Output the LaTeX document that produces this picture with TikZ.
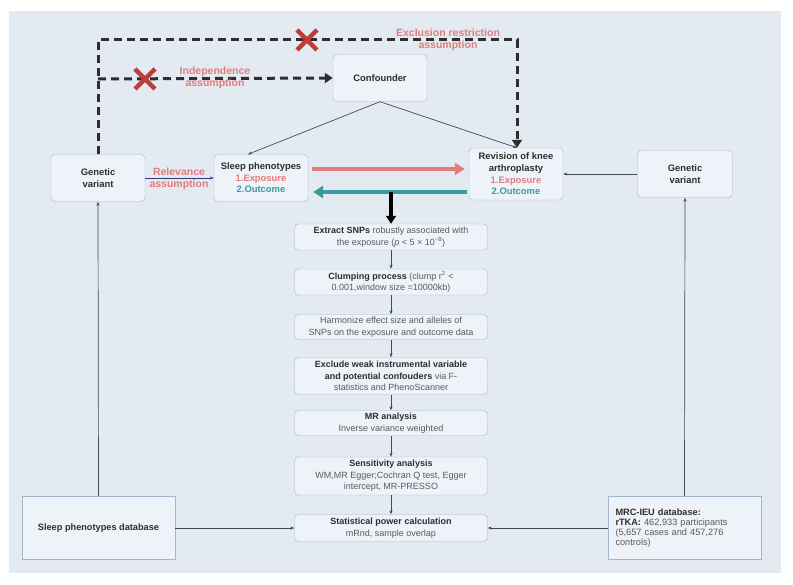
\documentclass[tikz,border=0pt]{standalone}
\usepackage{fontspec}
\setmainfont{Liberation Sans}
\usetikzlibrary{arrows.meta,calc}
\definecolor{panel}{HTML}{E3EAF2}
\definecolor{boxfill}{HTML}{EEF3FA}
\definecolor{boxline}{HTML}{A4B6CE}
\definecolor{salmon}{HTML}{E47C7C}
\definecolor{tealc}{HTML}{3C9A9C}
\definecolor{crossred}{HTML}{C23B3B}
\definecolor{inkc}{HTML}{2E2E2E}
\definecolor{greytext}{HTML}{5A5A5A}
\definecolor{linkc}{HTML}{3E4A58}
\begin{document}
\begin{tikzpicture}[x=1pt,y=-1pt,
  box/.style={draw=boxline,fill=boxfill,rounded corners=4pt,align=center,text=inkc,
    font=\fontsize{9.4}{11.6}\selectfont\bfseries,inner sep=1pt},
  flow/.style={draw=boxline,fill=boxfill,rounded corners=4pt,align=center,text=greytext,
    minimum width=193pt,inner sep=1pt,font=\fontsize{9}{11.4}\selectfont},
  dbbox/.style={draw=boxline,fill=boxfill,minimum width=153pt,minimum height=63pt,
    inner sep=1pt,font=\fontsize{9.2}{9.8}\selectfont},
  link/.style={draw=linkc,line width=0.7pt,-{Stealth[length=4pt,width=3pt]}},
  dashlink/.style={draw=inkc,line width=3pt,dash pattern=on 8pt off 5pt,
    -{Triangle[length=8pt,width=10pt]}},
  note/.style={text=salmon,font=\fontsize{10.5}{12.5}\selectfont\bfseries,align=center},
  cross/.style={draw=crossred,line width=4.5pt}]
\useasboundingbox[fill=white] (0,0) rectangle (793,585);
\fill[panel] (9,11) rectangle (781,573);
% upper part
\node[box,minimum width=94pt,minimum height=47pt] (conf) at (380,78) {Confounder};
\node[box,minimum width=94pt,minimum height=47pt] (gvl) at (98,178) {Genetic\\variant};
\node[box,minimum width=94pt,minimum height=47pt] (sleep) at (261,178)
  {Sleep phenotypes\\\textcolor{salmon}{1.Exposure}\\\textcolor{tealc}{2.Outcome}};
\node[box,minimum width=94pt,minimum height=52pt] (rev) at (516,174)
  {Revision of knee\\arthroplasty\\\textcolor{salmon}{1.Exposure}\\\textcolor{tealc}{2.Outcome}};
\node[box,minimum width=95pt,minimum height=47pt] (gvr) at (685,174) {Genetic\\variant};
% flow
\node[flow,minimum height=26pt] (snp) at (391,237)
  {\textbf{\color{inkc}Extract SNPs} robustly associated with\\the exposure (\textit{p} < 5 × 10\textsuperscript{−8})};
\node[flow,minimum height=26pt] (clump) at (391,282)
  {\textbf{\color{inkc}Clumping process} (clump r\textsuperscript{2} <\\0.001,window size =10000kb)};
\node[flow,minimum height=25pt] (harm) at (391,327)
  {Harmonize effect size and alleles of\\SNPs on the exposure and outcome data};
\node[flow,minimum height=37pt] (weak) at (391,376)
  {\textbf{\color{inkc}Exclude weak  instrumental variable}\\\textbf{\color{inkc}and potential confouders} via F-\\statistics and PhenoScanner};
\node[flow,minimum height=25pt] (mr) at (391,423)
  {\textbf{\color{inkc}MR  analysis}\\Inverse variance weighted};
\node[flow,minimum height=38pt] (sens) at (391,476)
  {\textbf{\color{inkc}Sensitivity analysis}\\WM,MR Egger;Cochran Q test, Egger\\intercept, MR-PRESSO};
\node[flow,minimum height=27pt] (power) at (391,528)
  {\textbf{\color{inkc}Statistical power calculation}\\mRnd, sample overlap};
% databases
\node[dbbox,text=inkc,font=\fontsize{9.2}{11}\selectfont\bfseries] (sdb) at (98.5,528) {Sleep phenotypes database};
\node[dbbox,align=left,text=greytext,text width=138pt] (mrc) at (684.5,528)
  {\textbf{\color{inkc}MRC-IEU database:}\\\textbf{\color{inkc}rTKA:} 462,933 participants\\(5,657 cases and 457,276\\controls)};
% dashed assumption lines
\coordinate (topl) at (98,40);
\coordinate (topr) at (517,40);
\coordinate (midl) at (98,79);
\draw[dashlink] (gvl.north) -- (topl) -- (topr) -- (rev.north -| topr);
\draw[dashlink] (midl) -- (conf.west);
\foreach \cx/\cy in {307/40,145/79}
  \draw[cross] (\cx-10,\cy-10) -- (\cx+10,\cy+10) (\cx-10,\cy+10) -- (\cx+10,\cy-10);
\node[note] (excl) at (448,40) {Exclusion restriction\\assumption};
\node[note] (indep) at (215,78) {Independence\\assumption};
% confounder links
\draw[link] (conf.south) -- ($(sleep.north)+(-13,0)$);
\draw[link] (conf.south) -- (rev.north -| topr);
% relevance
\draw[link,draw=linkc!80!blue] (gvl.east) -- (sleep.west);
\node[note] (relev) at (179,179) {Relevance\\assumption};
\draw[link] (gvr.west) -- (rev.east);
% exposure / outcome arrows
\draw[draw=salmon,line width=4pt,-{Triangle[length=10pt,width=12pt]}]
  ($(sleep.east)+(4,-9)$) -- ($(rev.west)+(-4,-5)$);
\draw[draw=tealc,line width=4pt,-{Triangle[length=10pt,width=12pt]}]
  ($(rev.west)+(-2,18)$) -- ($(sleep.east)+(5,14)$);
\coordinate (split) at (391,192);
\draw[draw=black,line width=3.5pt,-{Triangle[length=8pt,width=10pt]}] (split) -- (snp.north);
% flow links
\foreach \a/\b in {snp/clump,clump/harm,harm/weak,weak/mr,mr/sens,sens/power}
  \draw[link] (\a) -- (\b);
\draw[link] (sdb.east) -- (power.west);
\draw[link] (mrc.west) -- (power.east);
\draw[link] (sdb.north) -- (gvl.south);
\draw[link] (mrc.north) -- (gvr.south);
\end{tikzpicture}
\end{document}
